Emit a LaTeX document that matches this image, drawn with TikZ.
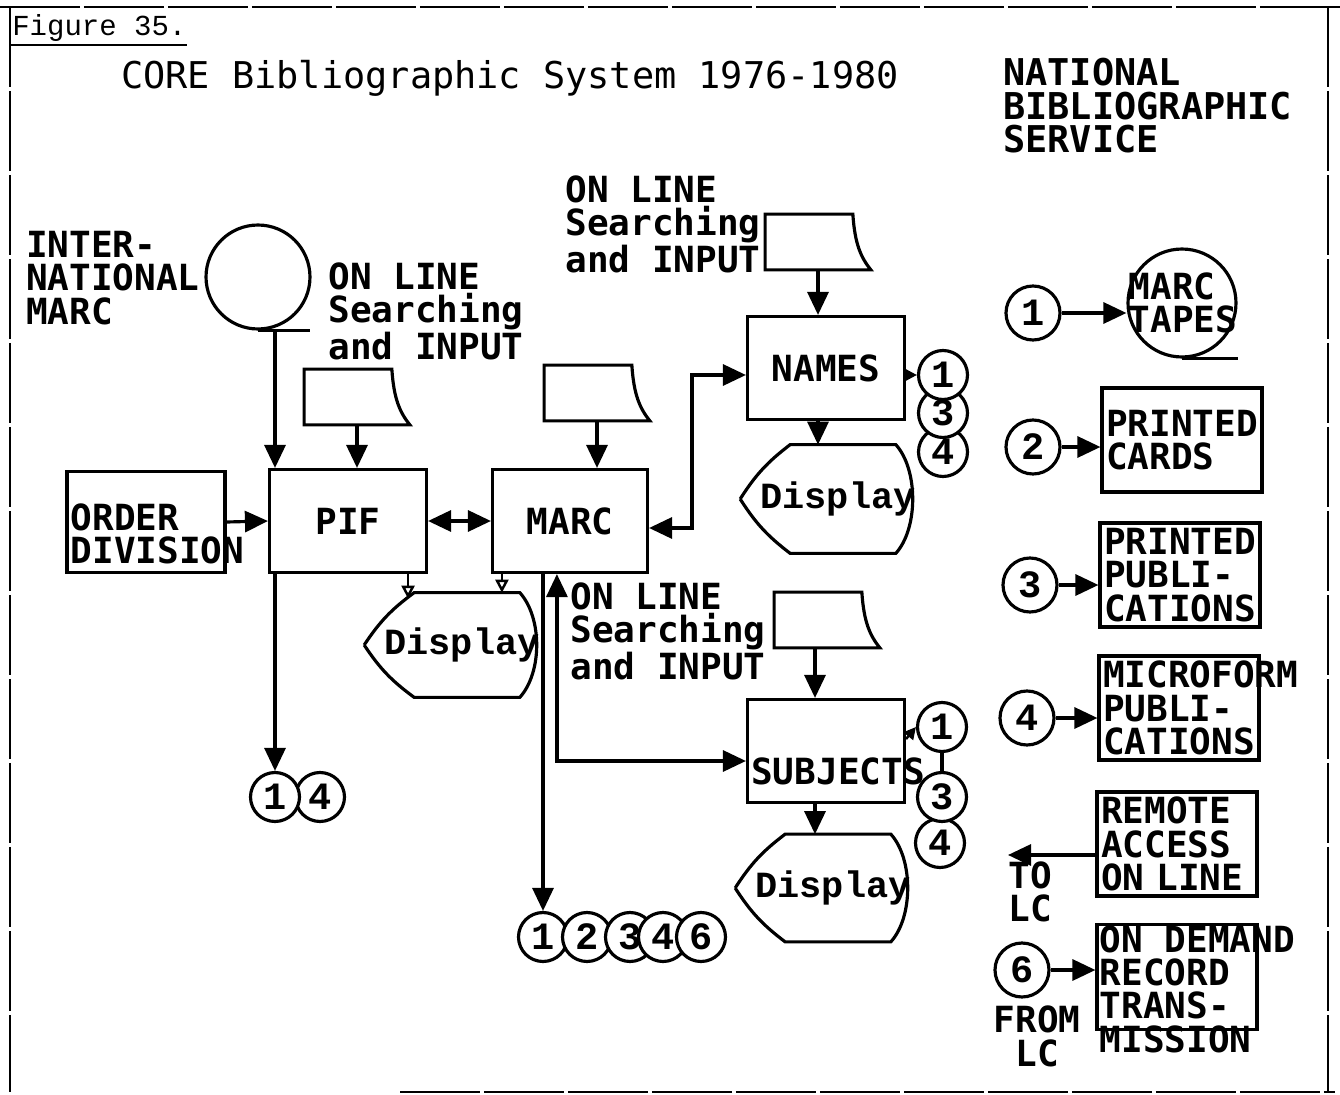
\documentclass[tikz,border=0pt]{standalone}
\usepackage{fontspec}
\setmonofont{DejaVu Sans Mono}
\newfontfamily\courfam{Liberation Mono}
\usetikzlibrary{arrows.meta, positioning, calc}

\newcommand{\lblfont}{\ttfamily\bfseries\fontsize{20.5}{19}\selectfont}
\newcommand{\dispfont}{\courfam\bfseries\fontsize{21}{19}\selectfont}
\newcommand{\digitfont}{\courfam\bfseries\fontsize{22}{22}\selectfont}

% on-line input symbol drawn round an empty node
\newcommand{\inputoutline}[1]{%
  \draw[line width=1.8pt] (#1.north west) -- ([xshift=-0.36cm]#1.north east)
    .. controls ([xshift=-0.32cm,yshift=-0.6cm]#1.north east) and ([xshift=-0.2cm,yshift=0.25cm]#1.south east) .. (#1.south east)
    -- (#1.south west) -- cycle;}
% display symbol drawn round its text node
\newcommand{\dispoutline}[1]{%
  \draw[line width=1.8pt] (#1.west) to[bend left=10] ([xshift=1cm]#1.north west)
    -- ([xshift=-0.4cm]#1.north east)
    .. controls ([xshift=0.05cm,yshift=-0.5cm]#1.north east) and ([xshift=0.05cm,yshift=0.5cm]#1.south east) .. ([xshift=-0.4cm]#1.south east)
    -- ([xshift=1cm]#1.south west) to[bend left=10] (#1.west);}

\begin{document}
\begin{tikzpicture}[x=0.02cm, y=-0.02cm,
    box/.style={rectangle, draw, line width=1.8pt, minimum width=3.14cm, minimum height=2.06cm, font=\lblfont},
    outbox/.style={rectangle, draw, line width=1.8pt, text width=3.04cm, inner sep=0.08cm, minimum height=2.08cm, align=left, font=\lblfont},
    inbox/.style={rectangle, minimum width=2.1cm, minimum height=1.1cm, inner sep=0pt},
    disp/.style={rectangle, minimum width=3.2cm, minimum height=2.08cm, inner sep=0pt, font=\dispfont},
    tape/.style={circle, draw, line width=1.8pt, minimum size=2.08cm, inner sep=0pt},
    num/.style={circle, draw, line width=1.8pt, fill=white, minimum size=0.98cm, inner sep=0pt, font=\digitfont},
    bignum/.style={num, minimum size=1.08cm},
    lbl/.style={align=left, inner sep=0pt, font=\lblfont},
    arr/.style={-{Triangle[length=0.46cm, width=0.42cm]}, line width=1.8pt},
    darr/.style={{Triangle[length=0.46cm, width=0.42cm]}-{Triangle[length=0.46cm, width=0.42cm]}, line width=1.8pt},
    sarr/.style={-{Triangle[length=0.24cm, width=0.24cm]}, line width=1.4pt},
    varr/.style={-{Triangle[open, length=0.26cm, width=0.26cm]}, line width=1.4pt},
    pageframe/.style={line width=1.3pt, dash pattern=on 1.6cm off 0.08cm}
]
\useasboundingbox (0,0) rectangle (1340,1095);

% frame of the page
\draw[pageframe] (0,7) -- (1340,7);
\draw[pageframe] (10,7) -- (10,1092);
\draw[pageframe] (1328,7) -- (1328,1092);
\draw[pageframe] (400,1092) -- (1335,1092);

\node[anchor=west, inner sep=0pt, font=\courfam\fontsize{16.5}{18}\selectfont] (fig) at (12,28) {Figure 35.};
\draw[line width=1pt] (10,45) -- (187,45);

\node[font=\ttfamily\fontsize{21}{24}\selectfont] (title) at (510,78) {CORE Bibliographic System 1976-1980};
\node[lbl, anchor=north west, font=\ttfamily\bfseries\fontsize{21}{19}\selectfont] (nbs) at (1003,58) {NATIONAL\\BIBLIOGRAPHIC\\SERVICE};

% left part
\node[tape] (tapeL) at (258,277) {};
\draw[line width=1.8pt] (tapeL.south) -- ++(52,0);
\node[lbl, anchor=east] (intl) at (200,278) {INTER-\\NATIONAL\\MARC};

\node[outbox, text width=2.96cm, inner sep=0.1cm, minimum height=2.02cm,
      label={[lbl, anchor=west, xshift=0.1cm, yshift=-0.24cm]west:{ORDER\\DIVISION}}] (order) at (146,522) {};
\node[box] (pif) at (348,521) {PIF};
\node[box, minimum width=3.1cm] (marc) at (570,521) {MARC};

\node[inbox] (pifin) at (357,397) {};
\inputoutline{pifin}
\node[lbl, anchor=west] (piflbl) at (328,311) {ON LINE\\Searching\\and INPUT};
\node[inbox] (marcin) at (597,393) {};
\inputoutline{marcin}

\node[disp] (pifdisp) at (452,645) {\hspace*{0.4cm}Display};
\dispoutline{pifdisp}

\node[num] (oneb) at (320,797) {4};
\node[num] (onea) at (275,797) {1};

\draw[arr] (tapeL.south -| onea) -- (pif.north -| onea);
\draw[arr] (pif.south -| onea) -- (onea.north);
\draw[arr] (pifin.south) -- (pifin.south |- pif.north);
\draw[arr] (marcin.south) -- (marcin.south |- marc.north);
\draw[arr] (order.east) -- (pif.west);
\draw[darr] (pif.east) -- (marc.west);
\draw[varr] ([xshift=-0.4cm]pif.south east) -- ([xshift=-0.4cm,yshift=-0.12cm]pif.south east |- pifdisp.north);
\draw[varr] ([xshift=0.22cm]marc.south west) -- ([xshift=0.22cm]marc.south west |- pifdisp.north);

% bottom row of outputs
\node[num] (rowa) at (543,937) {1};
\node[num] (rowb) at (587,937) {2};
\node[num] (rowc) at (630,937) {3};
\node[num] (rowd) at (663,937) {4};
\node[num] (rowe) at (701,937) {6};
\draw[arr] (marc.south -| rowa) -- (rowa.north);

% names
\node[box] (names) at (826,368) {NAMES};
\node[inbox] (namesin) at (818,242) {};
\inputoutline{namesin}
\node[lbl, anchor=west] (nameslbl) at (565,224) {ON LINE\\Searching\\and INPUT};
\node[disp, minimum width=3.34cm, minimum height=2.16cm] (namesdisp) at (828,499) {\hspace*{0.4cm}Display};
\dispoutline{namesdisp}
\node[num] (nfour) at (943,452) {4};
\node[num] (nthree) at (943,413) {3};
\node[num] (none) at (943,375) {1};

\draw[arr] (namesin.south) -- (namesin.south |- names.north);
\draw[arr] (namesin |- names.south) -- (namesin |- namesdisp.north);
\draw[sarr] (names.east |- none) -- (none.west);
\draw[darr] ([yshift=-0.14cm]marc.east) -| ([xshift=-1.08cm,yshift=-0.14cm]names.west) -- ([yshift=-0.14cm]names.west);

% subjects
\node[box, label={[lbl, anchor=west, xshift=0.1cm, yshift=-0.4cm]west:SUBJECTS}] (subj) at (826,751) {};
\node[inbox] (subjin) at (827,620) {};
\inputoutline{subjin}
\node[lbl, anchor=west] (subjlbl) at (570,631) {ON LINE\\Searching\\and INPUT};
\node[disp, minimum width=3.26cm, minimum height=2.14cm] (subjdisp) at (823,888) {\hspace*{0.4cm}Display};
\dispoutline{subjdisp}
\node[num] (sfour) at (940,843) {4};
\node[num] (sthree) at (942,797) {3};
\node[num] (sone) at (942,727) {1};

\draw[arr] ([xshift=-0.24cm]subjin.south) -- ([xshift=-0.24cm]subjin.south |- subj.north);
\draw[arr] ([xshift=-0.24cm]subjin.south |- subj.south) -- ([xshift=-0.24cm]subjin.south |- subjdisp.north);
\draw[line width=1.8pt] (sone.south) -- (sthree.north);
\draw[sarr] ([yshift=0.24cm]subj.east) -- (sone.west);
\draw[darr] ([xshift=1.32cm]marc.south west) |- ([yshift=-0.2cm]subj.west);

% national bibliographic service outputs
\node[bignum] (outone) at (1033,313) {1};
\node[tape, minimum size=2.16cm, label={[lbl, anchor=west, xshift=0.04cm]west:{MARC\\TAPES}}] (tapeR) at (1182,303) {};
\draw[line width=1.8pt] (tapeR.south) -- ++(56,0);
\draw[arr] (outone.east) -- (outone.east -| tapeR.west);

\node[outbox] (cards) at (1182,440) {PRINTED\\CARDS};
\node[outbox] (pubs) at (1180,575) {PRINTED\\PUBLI-\\CATIONS};
\node[outbox] (micro) at (1179,708) {MICROFORM\\PUBLI-\\CATIONS};
\node[outbox] (remote) at (1177,844) {REMOTE\\ACCESS\\ON LINE};
\node[outbox, minimum height=2.1cm, label={[lbl, anchor=north west, xshift=0.08cm, yshift=-0.04cm]north west:{ON DEMAND\\RECORD\\TRANS-\\MISSION}}] (demand) at (1177,977) {};

\node[bignum] (outtwo) at (1033,447) {2};
\node[bignum] (outthree) at (1030,585) {3};
\node[bignum] (outfour) at (1027,718) {4};
\node[bignum] (outsix) at (1022,970) {6};

\draw[arr] (outtwo.east) -- (outtwo.east -| cards.west);
\draw[arr] (outthree.east) -- (outthree.east -| pubs.west);
\draw[arr] (outfour.east) -- (outfour.east -| micro.west);
\draw[arr] (outsix.east) -- (outsix.east -| demand.west);

\coordinate (tolc) at (1008,855);
\draw[arr] (remote.west |- tolc) -- (tolc);
\node[lbl, align=center, below=0.12cm of tolc, xshift=0.44cm] (tolctxt) {TO\\LC};
\node[lbl, align=center, below=0.14cm of outsix, xshift=0.3cm] (fromlc) {FROM\\LC};

\end{tikzpicture}
\end{document}
